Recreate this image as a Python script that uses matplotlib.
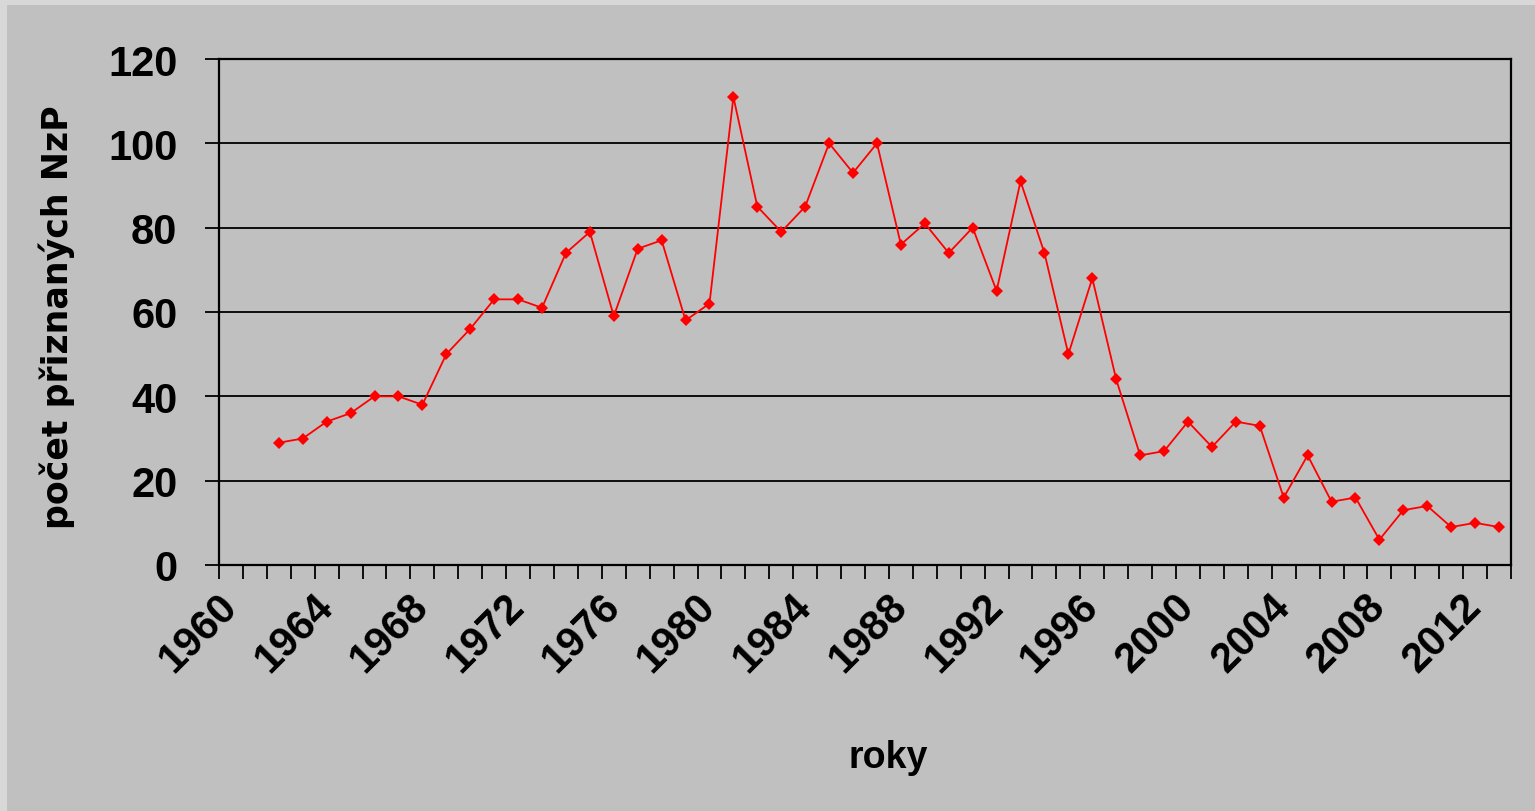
import numpy as np
import matplotlib.pyplot as plt
from matplotlib.patches import Rectangle
from matplotlib.ticker import FixedLocator, NullFormatter


# data: yearly counts (1960 and 1961 have no value)
years = np.arange(1962, 2014)
counts = [29, 30, 34, 36, 40, 40, 38, 50, 56, 63,
          63, 61, 74, 79, 59, 75, 77, 58, 62, 111,
          85, 79, 85, 100, 93, 100, 76, 81, 74, 80,
          65, 91, 74, 50, 68, 44, 26, 27, 34, 28,
          34, 33, 16, 26, 15, 16, 6, 13, 14, 9,
          10, 9]
first_year = 1960
last_year = 2013
label_years = list(range(1960, 2013, 4))
y_ticks = [0, 20, 40, 60, 80, 100, 120]

gray = "#c0c0c0"
W, H = 1535, 812

fig = plt.figure(figsize=(W / 100, H / 100), dpi=100, facecolor="#d8d8d8")
fig.patches.append(Rectangle((7 / W, 0), 1, 1 - 6 / H, transform=fig.transFigure,
                             facecolor=gray, edgecolor="none", zorder=-10))

ax = fig.add_axes([219 / W, 1 - 566 / H, 1292 / W, 506 / H])
ax.set_facecolor(gray)

ax.plot(years, counts, color="#ff0000", linewidth=1.3, marker="D",
        markersize=6, markeredgewidth=0, zorder=3)

ax.set_xlim(first_year - 0.5, last_year + 0.5)
ax.set_ylim(0, 120)

# category boundaries carry the tick marks, labels sit on category centres
ax.xaxis.set_major_locator(FixedLocator(np.arange(first_year - 0.5, last_year + 1)))
ax.xaxis.set_major_formatter(NullFormatter())
ax.xaxis.set_minor_locator(FixedLocator(label_years))
ax.set_xticks(label_years, [str(y) for y in label_years], minor=True)
ax.tick_params(axis="x", which="major", direction="out", length=10, width=1.3, color="black")
ax.tick_params(axis="x", which="minor", length=0, pad=25)
for lbl in ax.get_xticklabels(minor=True):
    lbl.set_rotation(45)
    lbl.set_ha("right")
    lbl.set_va("center")
    lbl.set_rotation_mode("anchor")
    lbl.set_fontfamily("Liberation Sans")
    lbl.set_fontweight("bold")
    lbl.set_fontsize(30)

ax.set_yticks(y_ticks)
ax.tick_params(axis="y", direction="out", length=10, width=1.3, pad=20)
for lbl in ax.get_yticklabels():
    lbl.set_fontfamily("Liberation Sans")
    lbl.set_fontweight("bold")
    lbl.set_fontsize(30)

ax.yaxis.grid(True, color="black", linewidth=1.3)
ax.set_axisbelow(True)
for side in ["left", "right", "top", "bottom"]:
    ax.spines[side].set_color("black")
    ax.spines[side].set_linewidth(1.6)

ax.set_xlabel("roky", fontfamily="Liberation Sans", fontweight="bold", fontsize=27)
ax.xaxis.set_label_coords((888 - 219) / 1292, (566 - 740) / 506)
ax.set_ylabel("počet přiznaných NzP", fontfamily="DejaVu Sans", fontweight="bold", fontsize=25)
ax.yaxis.set_label_coords((75 - 219) / 1292, (566 - 317) / 506)

fig.savefig("out.png", dpi=100, facecolor=fig.get_facecolor())
